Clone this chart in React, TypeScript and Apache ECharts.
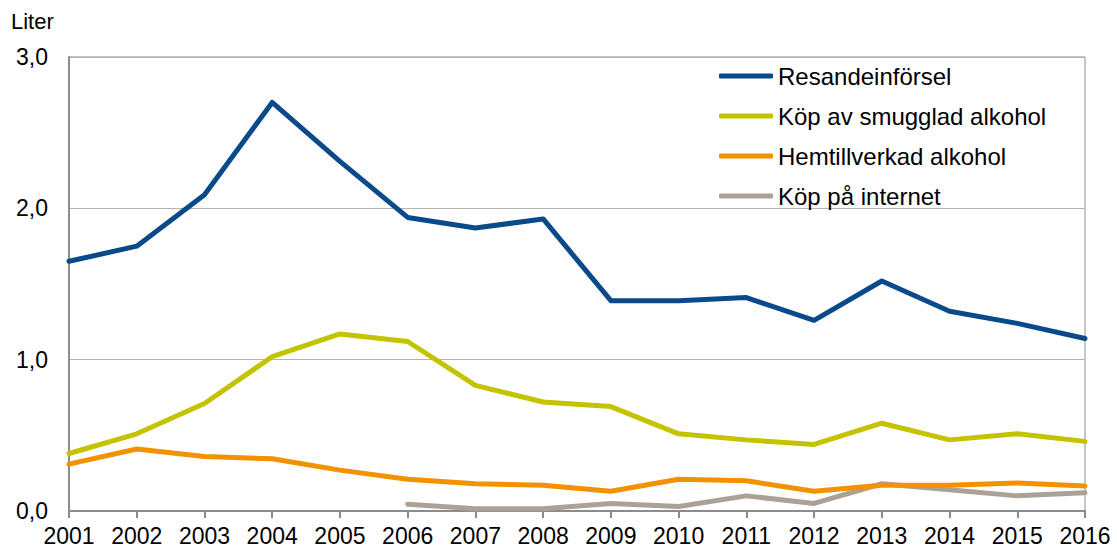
import React, { useEffect, useRef } from "react";
import * as echarts from "echarts";

const years = ["2001","2002","2003","2004","2005","2006","2007","2008","2009","2010","2011","2012","2013","2014","2015","2016"];
const resande = [1.65,1.75,2.09,2.70,2.31,1.94,1.87,1.93,1.39,1.39,1.41,1.26,1.52,1.32,1.24,1.14];
const smuggel = [0.38,0.51,0.71,1.02,1.17,1.12,0.83,0.72,0.69,0.51,0.47,0.44,0.58,0.47,0.51,0.46];
const hemtill = [0.31,0.41,0.36,0.345,0.27,0.21,0.18,0.17,0.13,0.21,0.20,0.13,0.17,0.17,0.185,0.165];
const internet = [null,null,null,null,null,0.045,0.015,0.015,0.05,0.03,0.10,0.05,0.18,0.14,0.10,0.12];

const names = ["Resandeinförsel","Köp av smugglad alkohol","Hemtillverkad alkohol","Köp på internet"];
const colors = ["#0a4a8a","#c3c300","#f39200","#aca196"];

export default function App() {
  const ref = useRef<HTMLDivElement>(null);
  useEffect(() => {
    const chart = echarts.init(ref.current!, null, { renderer: "svg" });
    const font = "'Liberation Sans', Arial, sans-serif";
    const datasets = [resande, smuggel, hemtill, internet];
    chart.setOption({
      animation: false,
      textStyle: { fontFamily: font },
      grid: { left: 69, right: 32, top: 57, bottom: 41, show: true, borderColor: "#8c8c8c", borderWidth: 1 },
      graphic: [
        { type: "text", left: 11, top: 10, style: { text: "Liter", fontSize: 22, fontFamily: font, fill: "#000" } },
      ],
      legend: {
        orient: "vertical",
        left: 714,
        top: 59,
        itemWidth: 54,
        itemHeight: 5,
        itemGap: 16,
        icon: "roundRect",
        textStyle: { fontSize: 24, fontFamily: font, color: "#000" },
        data: names,
      },
      xAxis: {
        type: "category",
        data: years,
        boundaryGap: false,
        axisLine: { lineStyle: { color: "#8c8c8c", width: 2 } },
        axisTick: { show: true, length: 7, lineStyle: { color: "#8c8c8c", width: 2 } },
        axisLabel: { fontSize: 23, color: "#000", margin: 13, fontFamily: font },
      },
      yAxis: {
        type: "value",
        min: 0,
        max: 3,
        interval: 1,
        axisLine: { show: true, lineStyle: { color: "#8c8c8c", width: 2 } },
        axisTick: { show: false },
        splitLine: { lineStyle: { color: "#b4b4b4", width: 1 } },
        axisLabel: {
          fontSize: 23,
          color: "#000",
          margin: 21,
          fontFamily: font,
          formatter: (v: number) => v.toFixed(1).replace(".", ","),
        },
      },
      series: datasets.map((d, i) => ({
        name: names[i],
        type: "line",
        data: d,
        showSymbol: false,
        symbol: "none",
        connectNulls: false,
        color: colors[i],
        lineStyle: { width: 5, color: colors[i], cap: "round", join: "round" },
        z: 10 - i,
      })),
    });
    return () => chart.dispose();
  }, []);
  return <div ref={ref} style={{ position: "absolute", left: 0, top: 0, width: 1117, height: 552 }} />;
}
